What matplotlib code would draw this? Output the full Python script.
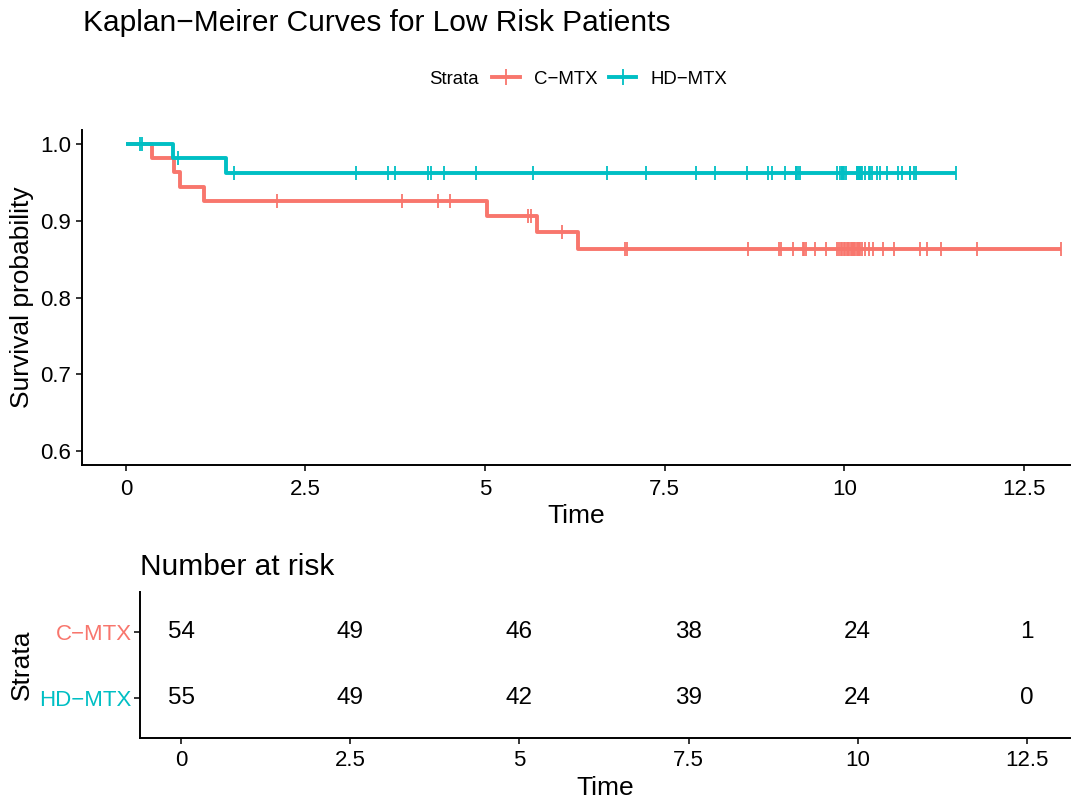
import numpy as np
import matplotlib
matplotlib.use("Agg")
import matplotlib.pyplot as plt
from matplotlib.lines import Line2D

plt.rcParams['font.family'] = ['Liberation Sans', 'DejaVu Sans']

# ---------------- data ----------------
strata = ["C−MTX", "HD−MTX"]
colors = ["#F8766D", "#00BFC4"]

cmtx_death_times = [0.36, 0.67, 0.76, 1.09, 5.03, 5.72, 6.29]
cmtx_censor_times = [2.11, 3.84, 4.35, 4.51, 5.60, 5.64, 6.07, 6.94, 6.98,
                     8.66, 9.09, 9.12, 9.29, 9.42, 9.44, 9.46, 9.59, 9.75,
                     9.90, 9.93, 9.95, 9.97, 9.99,
                     10.01, 10.03, 10.05, 10.07, 10.09, 10.11, 10.12, 10.13,
                     10.15, 10.17, 10.19, 10.21, 10.22, 10.24, 10.29, 10.34,
                     10.40, 10.54, 10.69, 11.05, 11.15, 11.34, 11.84, 13.01]

hd_death_times = [0.65, 1.40]
hd_censor_times = [0.20, 0.22, 0.72, 1.50, 3.20, 3.65, 3.75, 4.20, 4.25, 4.43,
                   4.88, 5.67, 6.70, 7.24, 7.93, 8.20, 8.65, 8.94, 8.99, 9.17,
                   9.32, 9.33, 9.35, 9.38, 9.90, 9.94, 9.96, 9.97, 9.98,
                   10.00, 10.02, 10.17, 10.18, 10.19, 10.20, 10.21, 10.22,
                   10.23, 10.24, 10.29, 10.34, 10.35, 10.39, 10.45, 10.50,
                   10.59, 10.75, 10.80, 10.91, 10.92, 10.97, 11.00, 11.56]

risk_times = [0, 2.5, 5, 7.5, 10, 12.5]
risk_cmtx = [54, 49, 46, 38, 24, 1]
risk_hd = [55, 49, 42, 39, 24, 0]

x_ticks = [0, 2.5, 5, 7.5, 10, 12.5]
x_ticklabels = ["0", "2.5", "5", "7.5", "10", "12.5"]
y_ticks = [0.6, 0.7, 0.8, 0.9, 1.0]
y_ticklabels = ["0.6", "0.7", "0.8", "0.9", "1.0"]


def km(deaths, censors):
    events = sorted([(t, 1) for t in deaths] + [(t, 0) for t in censors])
    n = len(events)
    s = 1.0
    st_t, st_s = [0.0], [1.0]
    cens_t, cens_s = [], []
    at_risk = n
    for t, e in events:
        if e == 1:
            s = s * (at_risk - 1) / at_risk
            st_t.append(t)
            st_s.append(s)
        else:
            cens_t.append(t)
            cens_s.append(s)
        at_risk -= 1
    last = max(t for t, _ in events)
    st_t.append(last)
    st_s.append(s)
    return st_t, st_s, cens_t, cens_s


fig = plt.figure(figsize=(10.8, 8.1), dpi=100)
W, H = 1080, 810

def fa(l, t, r, b):
    return [l / W, 1 - b / H, (r - l) / W, (b - t) / H]

TICK_FS = 16
LAB_FS = 19

ax = fig.add_axes(fa(82, 130, 1070, 465))
curves = [(cmtx_death_times, cmtx_censor_times), (hd_death_times, hd_censor_times)]
for (d, c), col in zip(curves, colors):
    tt, ss, ct, cs = km(d, c)
    ax.step(tt, ss, where='post', color=col, lw=2.8, solid_capstyle='butt', zorder=3)
    ax.plot(ct, cs, ls='none', marker='|', ms=9.5, mew=1.3, color=col, zorder=4)

ax.set_xlim(-0.61, 13.14)
ax.set_ylim(0.582, 1.018)
ax.set_xticks(x_ticks)
ax.set_xticklabels(x_ticklabels)
ax.set_yticks(y_ticks)
ax.set_yticklabels(y_ticklabels)
for s in ['top', 'right']:
    ax.spines[s].set_visible(False)
for s in ['left', 'bottom']:
    ax.spines[s].set_linewidth(1.4)
ax.tick_params(axis='both', labelsize=TICK_FS, length=4, width=1.1, colors='black', pad=4)
ax.tick_params(axis='x', pad=6)
ax.set_xlabel("Time", fontsize=LAB_FS, labelpad=3)
ax.set_ylabel("Survival probability", fontsize=LAB_FS, labelpad=4)

fig.text(83 / W, 1 - 23 / H, "Kaplan−Meirer Curves for Low Risk Patients",
         fontsize=21.5, ha='left', va='center')

# legend
fig.text(479 / W, 1 - 79 / H, "Strata", fontsize=13.4, ha='right', va='center')
handles = [Line2D([], [], color=col, lw=2.8, marker='+', ms=11, mew=1.3) for col in colors]
fig.legend(handles, strata, loc='center left', bbox_to_anchor=(492 / W, 1 - 79 / H),
           ncol=2, frameon=False, fontsize=13.4, handlelength=1.5, handletextpad=0.75,
           columnspacing=0.6, borderaxespad=0, borderpad=0)

# risk table
rax = fig.add_axes(fa(140, 592, 1070, 738))
rows = [risk_cmtx, risk_hd]
ypos = [2, 1]
for vals, y in zip(rows, ypos):
    for t, v in zip(risk_times, vals):
        rax.text(t, y, str(v), ha='center', va='center', fontsize=17.5)
rax.set_xlim(-0.61, 13.14)
rax.set_ylim(0.4, 2.6)
rax.set_xticks(x_ticks)
rax.set_xticklabels(x_ticklabels)
rax.set_yticks(ypos)
rax.set_yticklabels(strata)
for lab, col in zip(rax.get_yticklabels(), colors):
    lab.set_color(col)
for s in ['top', 'right']:
    rax.spines[s].set_visible(False)
for s in ['left', 'bottom']:
    rax.spines[s].set_linewidth(1.4)
rax.tick_params(axis='both', labelsize=TICK_FS, length=4, width=1.1, pad=4)
rax.tick_params(axis='x', colors='black', pad=5)
rax.tick_params(axis='y', labelsize=16, pad=2)
rax.set_xlabel("Time", fontsize=LAB_FS, labelpad=3)
rax.set_ylabel("Strata", fontsize=LAB_FS, labelpad=4)
rax.set_title("Number at risk", fontsize=21.5, loc='left', pad=12)

fig.savefig("out.png", dpi=100)
